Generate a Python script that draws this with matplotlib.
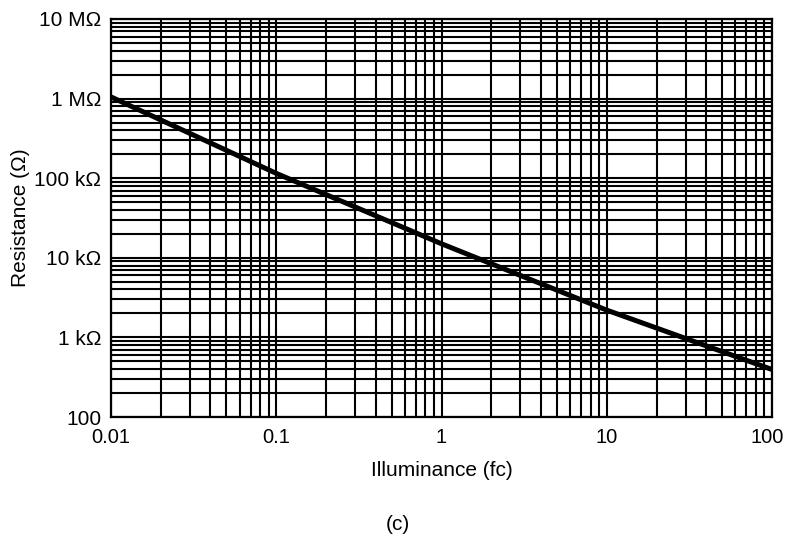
import matplotlib
matplotlib.use('Agg')
import matplotlib.pyplot as plt
import matplotlib.transforms as mtransforms
from matplotlib.ticker import LogLocator, FixedLocator, FixedFormatter, NullFormatter

plt.rcParams['font.family'] = ['Liberation Sans', 'DejaVu Sans']

# illuminance (fc) vs resistance (ohm)
illum = [0.01, 0.1, 1, 10, 100]
resist = [1.05e6, 1.15e5, 1.5e4, 2.2e3, 395]

xticks = [0.01, 0.1, 1, 10, 100]
xlabels = ['0.01', '0.1', '1', '10', '100']
yticks = [1e2, 1e3, 1e4, 1e5, 1e6, 1e7]
ylabels = ['100', '1 k\u03a9', '10 k\u03a9', '100 k\u03a9', '1 M\u03a9', '10 M\u03a9']

fig = plt.figure(figsize=(7.87, 5.38), dpi=100)
ax = fig.add_axes([0.141, 0.2249, 0.840, 0.7398])

ax.plot(illum, resist, color='black', lw=3.6, solid_capstyle='butt', zorder=3)

ax.set_xscale('log')
ax.set_yscale('log')
ax.set_xlim(0.01, 100)
ax.set_ylim(100, 1e7)

ax.xaxis.set_major_locator(FixedLocator(xticks))
ax.xaxis.set_major_formatter(FixedFormatter(xlabels))
ax.yaxis.set_major_locator(FixedLocator(yticks))
ax.yaxis.set_major_formatter(FixedFormatter(ylabels))
ax.xaxis.set_minor_locator(LogLocator(base=10, subs=range(2, 10), numticks=20))
ax.yaxis.set_minor_locator(LogLocator(base=10, subs=range(2, 10), numticks=20))
ax.xaxis.set_minor_formatter(NullFormatter())
ax.yaxis.set_minor_formatter(NullFormatter())

ax.grid(True, which='both', color='black', lw=1.5)
ax.tick_params(which='both', length=0)
ax.tick_params(axis='x', pad=8, labelsize=14.5)
ax.tick_params(axis='y', pad=7, labelsize=15)
for s in ax.spines.values():
    s.set_linewidth(1.6)

# keep the last x label inside the figure
last = ax.get_xticklabels()[-1]
last.set_transform(last.get_transform() + mtransforms.ScaledTranslation(-5 / 100, 0, fig.dpi_scale_trans))

ax.set_xlabel('Illuminance (fc)', fontsize=15, labelpad=10)
ax.set_ylabel('Resistance (\u03a9)', fontsize=15)
ax.yaxis.set_label_coords(-0.123, 0.5)
fig.text(0.505, 0.014, '(c)', fontsize=15, ha='center')

fig.savefig('out.png', dpi=100)
